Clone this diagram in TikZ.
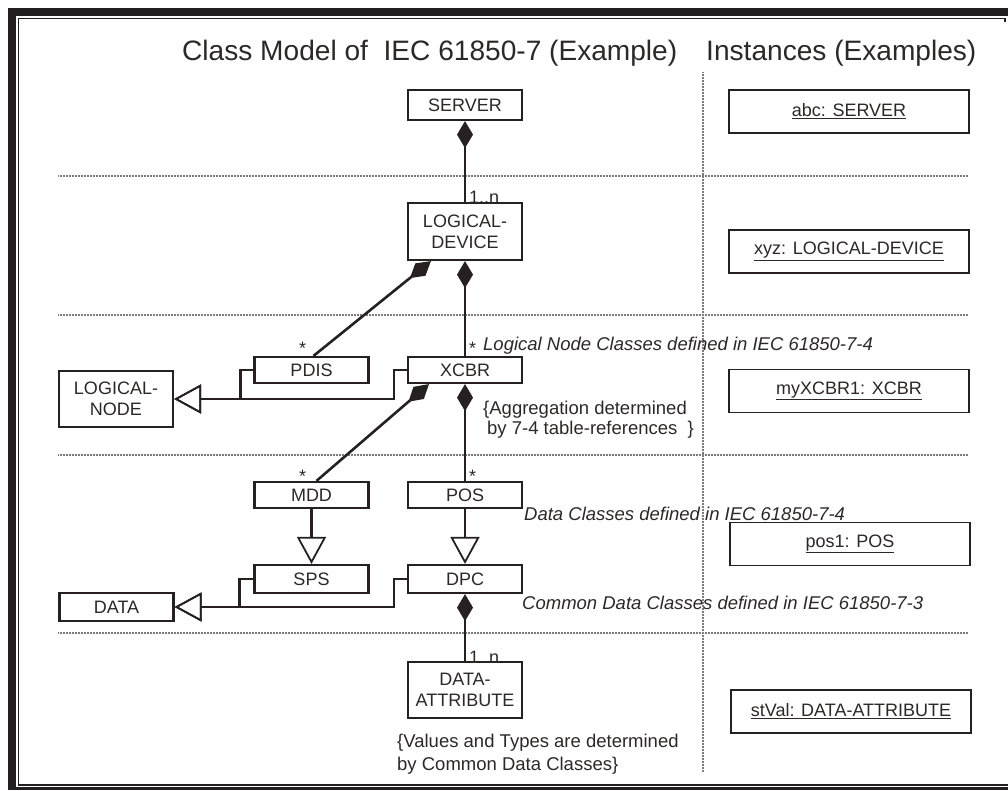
\documentclass[tikz,border=0pt]{standalone}
\usepackage{fontspec}
\setmainfont{Liberation Sans}
\usetikzlibrary{arrows.meta}
\definecolor{inkline}{RGB}{38,32,32}
\definecolor{inktext}{RGB}{45,40,40}
\definecolor{sepgray}{RGB}{125,125,125}
\definecolor{framek}{RGB}{35,31,32}
\newcommand{\clsfont}{\fontsize{18}{21}\selectfont}
\newcommand{\notefont}{\fontsize{18.5}{20}\selectfont}
\tikzset{
  cls/.style={draw=inkline, line width=2.2pt, fill=white, minimum width=114pt,
    minimum height=26pt, inner sep=0pt, align=center, font=\clsfont, text=inktext},
  inst/.style={draw=inkline, line width=1.8pt, fill=white, minimum width=240pt,
    minimum height=43pt, inner sep=0pt, font=\clsfont, text=inktext},
  heading/.style={font=\fontsize{28.1}{32}\selectfont, text=inktext, anchor=base west, inner sep=0pt},
  note/.style={font=\notefont\itshape, text=inktext, anchor=base west, inner sep=0pt},
  remark/.style={font=\notefont, text=inktext, anchor=base west, inner sep=0pt},
  mult/.style={font=\clsfont, text=inktext, anchor=base west, inner sep=0pt},
  sep/.style={draw=sepgray, line width=1.6pt, dash pattern=on 0.8pt off 0.7pt},
  compose/.style={{Diamond[length=27pt,width=16pt]}-, draw=inkline, line width=2.6pt},
  inherit/.style={-{Triangle[open,length=27pt,width=29pt,line width=1.8pt]},
    draw=inkline, line width=2.6pt}
}

\begin{document}
\begin{tikzpicture}[x=1pt,y=-1pt]
\useasboundingbox (0,0) rectangle (1008,790);

% frame
\fill[framek] (8,8) rectangle (1008,16);
\fill[framek] (8,8) rectangle (16,790);
\fill[framek] (8,787) rectangle (1008,790);
\draw[framek, line width=1.5pt] (1005,22) -- (1005,18.5) -- (18.5,18.5) -- (18.5,785) -- (1008,785);

% headings
\node[heading] (hclass) at (182,60) {Class Model of\ \ IEC 61850-7 (Example)};
\node[heading] (hinst) at (706,60) {Instances (Examples)};

% level separators
\draw[sep] (58,176) -- (968,176);
\draw[sep] (58,315) -- (968,315);
\draw[sep] (58,455) -- (968,455);
\draw[sep] (58,633) -- (968,633);
\draw[sep] (703,72) -- (703,772);

% classes
\node[cls, minimum height=30pt] (server) at (465,105) {SERVER};
\node[cls, minimum height=57pt] (ldev) at (465,231.5) {LOGICAL-\\DEVICE};
\node[cls, minimum height=56pt] (lnode) at (116,399) {LOGICAL-\\NODE};
\node[cls] (pdis) at (311.5,370) {PDIS};
\node[cls] (xcbr) at (465,370) {XCBR};
\node[cls] (mdd) at (311.5,495) {MDD};
\node[cls] (pos) at (465,495) {POS};
\node[cls, minimum height=28pt] (sps) at (311.5,579) {SPS};
\node[cls, minimum height=28pt] (dpc) at (465,579) {DPC};
\node[cls, minimum height=28pt] (data) at (116.5,607) {DATA};
\node[cls, minimum height=56pt] (attr) at (465,690) {DATA-\\ATTRIBUTE};

% instances
\node[inst] (iserver) at (849,111.5) {\underline{abc: SERVER}};
\node[inst] (ildev) at (849,251.5) {\underline{xyz: LOGICAL-DEVICE}};
\node[inst] (ixcbr) at (849,391) {\underline{myXCBR1: XCBR}};
\node[inst] (ipos) at (850,544) {\underline{pos1: POS}};
\node[inst] (iattr) at (851,711.5) {\underline{stVal: DATA-ATTRIBUTE}};

% aggregation
\draw[compose] (server.south) -- (ldev.north);
\draw[compose] (ldev.south) -- (xcbr.north);
\draw[compose] ([xshift=24pt]ldev.south west) -- ([xshift=2pt]pdis.north);
\draw[compose] (xcbr.south) -- (pos.north);
\draw[compose] ([xshift=22pt]xcbr.south west) -- ([xshift=5pt]mdd.north);
\draw[compose] (dpc.south) -- (attr.north);

% specialisation
\draw[inherit] (pdis.west) -- ++(-13,0) |- (lnode.east);
\draw[inherit] (xcbr.west) -- ++(-13,0) |- (lnode.east);
\draw[inherit] (mdd.south) -- (sps.north);
\draw[inherit] (pos.south) -- (dpc.north);
\draw[inherit] (sps.west) -- ++(-14,0) |- (data.east);
\draw[inherit] (dpc.west) -- ++(-13,0) |- (data.east);

% multiplicities
\node[mult] (m1) at (469,203) {1..n};
\node[mult] (m2) at (469,663) {1..n};
\node[mult] (s1) at (299,354) {*};
\node[mult] (s2) at (469,354) {*};
\node[mult] (s3) at (299,482) {*};
\node[mult] (s4) at (469,482) {*};

% notes
\node[note] (nln) at (483,350) {Logical Node Classes defined in IEC 61850-7-4};
\node[remark] (nagg1) at (483,414) {\{Aggregation determined};
\node[remark] (nagg2) at (487,434) {by 7-4 table-references\ \ \}};
\node[note] (ndc) at (524,520) {Data Classes defined in IEC 61850-7-4};
\node[note] (ncdc) at (522,609) {Common Data Classes defined in IEC 61850-7-3};
\node[remark] (nval1) at (397,747) {\{Values and Types are determined};
\node[remark] (nval2) at (397,770) {by Common Data Classes\}};

\end{tikzpicture}
\end{document}
